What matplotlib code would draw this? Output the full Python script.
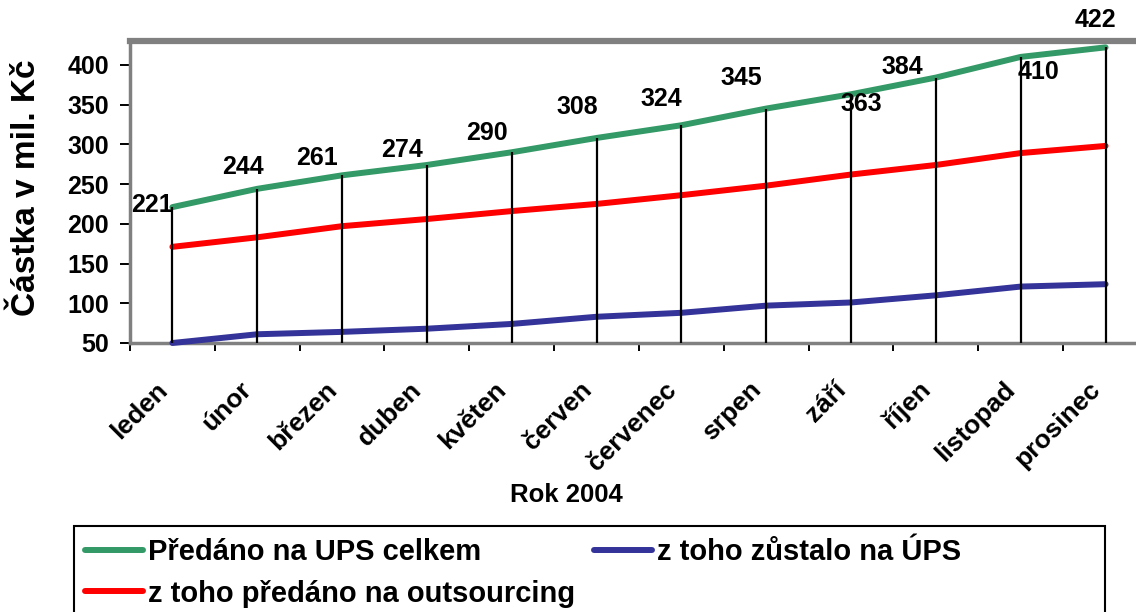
import matplotlib
matplotlib.use("Agg")
import matplotlib.pyplot as plt
import matplotlib.transforms as mtransforms
from matplotlib.patches import Rectangle

plt.rcParams['font.family'] = ['Liberation Sans', 'DejaVu Sans']
plt.rcParams['font.weight'] = 'bold'

months = ["leden", "únor", "březen", "duben", "květen", "červen",
          "červenec", "srpen", "září", "říjen", "listopad", "prosinec"]
celkem = [221, 244, 261, 274, 290, 308, 324, 345, 363, 384, 410, 422]
outsourcing = [171, 183, 197, 206, 216, 225, 236, 248, 262, 274, 289, 298]
zustalo = [50, 61, 64, 68, 74, 83, 88, 97, 101, 110, 121, 124]
yticks = [50, 100, 150, 200, 250, 300, 350, 400]

series_names = ["Předáno na UPS celkem", "z toho předáno na outsourcing",
                "z toho zůstalo na ÚPS"]
# label offsets in pixels (dx right, dy up)
label_offsets = [(-20, 2), (-14, 22), (-25, 17), (-25, 15), (-25, 19), (-19, 31),
                 (-20, 26), (-25, 31), (10, -10), (-34, 11), (18, -15), (-10, 27)]

W, H = 1136, 612
fig = plt.figure(figsize=(W / 100, H / 100), dpi=100)
fig.patch.set_facecolor("white")

x0, x1, yb, yt = 130, 1148, 343, 41
ax = fig.add_axes([x0 / W, 1 - yb / H, (x1 - x0) / W, (yb - yt) / H])
ax.set_xlim(-0.5, len(months) - 0.5)
ax.set_ylim(50, 430)

xs = list(range(len(months)))
green, red, blue = "#339966", "#FF0000", "#333399"
lw = 4.3
ax.plot(xs, celkem, color=green, lw=lw, solid_capstyle="round", zorder=3,
        label=series_names[0], clip_on=False)
ax.plot(xs, outsourcing, color=red, lw=lw, solid_capstyle="round", zorder=3,
        label=series_names[1])
ax.plot(xs, zustalo, color=blue, lw=lw, solid_capstyle="round", zorder=3,
        label=series_names[2], clip_on=False)
ax.vlines(xs, 50, celkem, color="black", lw=1.6, zorder=4)

for i, v in enumerate(celkem):
    dx, dy = label_offsets[i]
    ax.annotate(str(v), (i, v), xytext=(dx * 0.72, dy * 0.72),
                textcoords="offset points", ha="center", va="center",
                fontsize=18, fontweight="bold", zorder=5, annotation_clip=False)

# frame
for s in ax.spines.values():
    s.set_color("#808080")
    s.set_linewidth(2.5)
ax.spines["top"].set_linewidth(4.5)
ax.axvline(-0.5, color="black", lw=1.4, zorder=2.5, clip_on=False)
ax.axhline(50, color="black", lw=1.4, zorder=2.5, clip_on=False)

ax.set_yticks(yticks)
ax.set_yticklabels([str(t) for t in yticks])
ax.tick_params(axis="y", direction="out", length=7, width=1.4, color="black",
               labelsize=18, pad=8)
ax.set_xticks(xs)
ax.set_xticklabels(months, rotation=45, ha="right", va="center",
                   rotation_mode="anchor")
ax.set_xticks([i - 0.5 for i in range(len(months) + 1)], minor=True)
ax.tick_params(axis="x", which="major", length=0, labelsize=19, pad=31)
ax.tick_params(axis="x", which="minor", direction="out", length=6, width=1.4,
               color="black")
shift = mtransforms.ScaledTranslation(-9 / 100, 0, fig.dpi_scale_trans)
for lab in ax.get_xticklabels():
    lab.set_transform(lab.get_transform() + shift)
    lab.set_fontweight("bold")
for lab in ax.get_yticklabels():
    lab.set_fontweight("bold")

fig.text(27 / W, 1 - 188 / H, "Částka v mil. Kč", rotation=90, ha="center",
         va="center", fontsize=24, fontweight="bold")
fig.text(566 / W, 1 - 495 / H, "Rok 2004", ha="center", va="center",
         fontsize=18.5, fontweight="bold")

# legend
fig.patches.append(Rectangle((74 / W, -0.05), (1105 - 74) / W, 0.05 + 1 - 526 / H,
                             transform=fig.transFigure, fill=False,
                             edgecolor="black", lw=1.5))
handles, labels = ax.get_legend_handles_labels()
leg = fig.legend(handles, labels, loc="upper left", ncol=2,
                 bbox_to_anchor=(85 / W, 1 - 538 / H), frameon=False,
                 borderpad=0, borderaxespad=0,
                 handlelength=2.0, handletextpad=0.17, columnspacing=0.62,
                 labelspacing=0.47, prop={"weight": "bold", "size": 21})

fig.savefig("out.png", dpi=100)
